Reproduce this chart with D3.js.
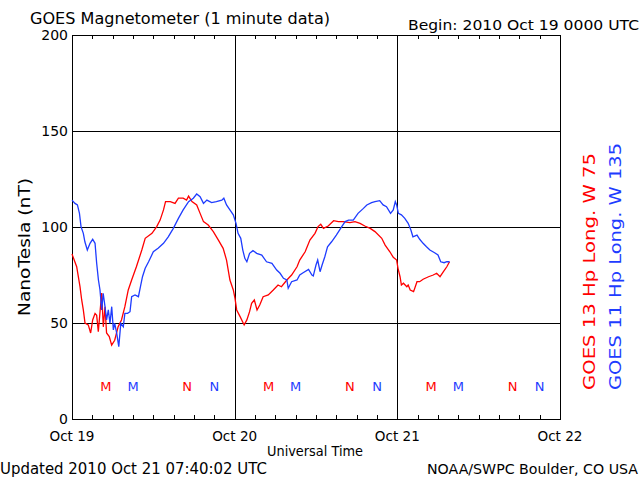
<!DOCTYPE html>
<html>
<head>
<meta charset="utf-8">
<script src="https://cdn.jsdelivr.net/npm/d3@7"></script>
<style>
  html, body { margin: 0; padding: 0; background: #fff; }
  text { font-family: "DejaVu Sans", sans-serif; }
</style>
</head>
<body>
<svg id="chart" width="640" height="480"></svg>
<script>
// ---------- DATA ----------
const dayLabels = ["Oct 19", "Oct 20", "Oct 21", "Oct 22"];
const yTicks = [0, 50, 100, 150, 200];

// GOES 13 (red): hours since 2010 Oct 19 00:00 UTC, values in nT
const g13Hours = [0, 0.69, 1.18, 1.43, 1.67, 1.92, 2.4, 2.75, 3.05, 3.4, 3.64, 3.88, 4.38, 4.62, 4.87, 5.1, 5.5, 5.85, 6.3, 6.8, 7.3, 7.8, 8.3, 8.8, 9.5, 10.3, 10.8, 11.8, 12.5, 13, 13.5, 13.8, 14.5, 15.2, 15.7, 16.4, 16.9, 17.2, 17.7, 18.4, 18.9, 19.4, 20.1, 20.85, 21.6, 22.3, 22.8, 23.3, 23.8, 24.05, 24.3, 24.8, 25.4, 25.8, 26.2, 26.5, 26.9, 27.3, 27.7, 28.2, 28.96, 29.7, 30.4, 30.9, 31.7, 32.4, 33.2, 33.6, 34.4, 35.1, 35.85, 36.3, 36.7, 37.1, 37.8, 38.6, 39.3, 40, 41, 41.75, 42.5, 43.2, 44, 44.7, 45.7, 46.2, 46.9, 47.4, 47.9, 48.1, 48.4, 48.6, 48.9, 49.4, 49.6, 49.9, 50.4, 50.9, 51.3, 51.8, 52.6, 53.3, 53.8, 54.3, 54.8, 55.3, 55.7];
const g13Values = [85.9, 79.3, 68.9, 62, 56.8, 50, 49, 44.8, 51.6, 55, 54, 45.5, 65.6, 48, 58.5, 44.8, 42.9, 38.5, 41, 48, 51.6, 58.5, 67.2, 72.4, 79.3, 88, 94.1, 96.7, 100.2, 103.6, 108.9, 113.2, 113.2, 112.3, 115, 115, 114, 116.1, 113.2, 111.5, 107.1, 102.8, 101, 97.6, 93.2, 88.9, 82.8, 72.4, 67.2, 62.8, 56.8, 53.3, 49, 51.6, 55.9, 60.3, 62, 56.8, 59.4, 63.7, 64.6, 67.2, 69.8, 68.9, 72.4, 75, 79.3, 82.8, 87.1, 93.2, 96.7, 100.2, 101.4, 99.3, 100.5, 103.3, 102.8, 102.8, 102.3, 102.8, 101.9, 100.5, 99.3, 97.6, 94.1, 90.6, 87.1, 84.2, 82.8, 78.5, 74.1, 69.8, 70.7, 68.9, 69.8, 67.2, 66.3, 71.5, 71.5, 72.8, 74.1, 75, 75.9, 74.1, 76.7, 79.3, 81.9];

// GOES 11 (blue)
const g11Hours = [0, 0.44, 0.8, 1.1, 1.33, 1.67, 1.9, 2.26, 2.66, 3.05, 3.4, 3.64, 3.9, 4.13, 4.38, 4.6, 4.87, 5.1, 5.36, 5.6, 5.86, 6.1, 6.3, 6.6, 6.9, 7.2, 7.57, 7.8, 8.2, 8.56, 8.8, 9.3, 9.8, 10.1, 10.4, 10.8, 11.3, 12, 12.7, 13.5, 14.2, 14.95, 15.7, 16.4, 17.2, 17.9, 18.4, 18.9, 19.4, 19.9, 20.6, 21.3, 22.1, 22.4, 22.8, 23.3, 23.8, 24.2, 24.5, 24.9, 25.2, 25.5, 25.8, 26.2, 26.7, 27.25, 28, 28.7, 29.5, 30.2, 30.7, 31.2, 31.7, 31.9, 32.4, 33.2, 33.6, 34.1, 34.9, 35.4, 35.6, 36, 36.25, 36.6, 36.9, 37.3, 37.7, 38.3, 39, 39.8, 40.3, 40.8, 41.5, 42.2, 43, 43.5, 44.2, 44.7, 45.4, 45.9, 46.4, 47, 47.4, 47.7, 47.9, 48.15, 48.6, 49.1, 49.6, 50, 50.3, 50.9, 51.3, 51.8, 52.3, 52.8, 53.5, 54, 54.4, 54.9, 55.3, 55.7];
const g11Values = [114, 112.3, 111.5, 107.1, 100.2, 96.7, 92.3, 88, 91.5, 93.6, 91.5, 81.1, 72.4, 67.2, 56.8, 65.5, 58.5, 51.6, 56.8, 49.8, 58.5, 46.4, 49.8, 44.6, 37.7, 49.8, 48, 55, 55, 55.9, 63.7, 64.6, 63.7, 68.9, 74.1, 78.5, 81.9, 87.1, 88.9, 91.5, 94.9, 99.3, 104.5, 108.9, 113.2, 115, 117.2, 115.8, 112.3, 114, 112.7, 113.2, 114, 115, 111.5, 108.9, 106.3, 101.9, 96.7, 94.1, 88, 83.7, 81.9, 86.3, 87.7, 86.3, 85.4, 81.9, 81.1, 77.6, 75.9, 73.3, 72.4, 68.1, 71.5, 72.4, 75, 76.2, 77.9, 75, 74.5, 80.2, 82.8, 76.7, 80.2, 84.5, 89.7, 92.3, 95.8, 100.2, 102.8, 103.6, 103.6, 107.1, 109.7, 111.5, 112.7, 113.2, 113.7, 111.5, 110.6, 107.1, 108.9, 113.2, 111.5, 107.1, 106.3, 104.5, 101.9, 98.4, 94.9, 95.8, 93.6, 91.5, 89.7, 88, 86.6, 85.4, 81.9, 81.4, 81.9, 81.9];

// Local midnight (M) / noon (N) markers, hours since start
const g13MarkerHours = [5, 17, 29, 41, 53, 65];
const g11MarkerHours = [9, 21, 33, 45, 57, 69];
const markerLetters = ["M", "N", "M", "N", "M", "N"];

// ---------- CHART ----------
const RED = "#ff0000", BLUE = "#1e3cff";
const svg = d3.select("#chart");
const pLeft = 72, pRight = 560, pTop = 35, pBottom = 419;

const x = d3.scaleLinear().domain([0, 72]).range([pLeft, pRight]);
const y = d3.scaleLinear().domain([0, 200]).range([pBottom, pTop]);

// grid lines
svg.append("g").selectAll("line").data([50, 100, 150]).join("line")
  .attr("x1", pLeft).attr("x2", pRight)
  .attr("y1", d => Math.round(y(d)) + 0.5).attr("y2", d => Math.round(y(d)) + 0.5)
  .attr("stroke", "#000").attr("stroke-width", 1);
svg.append("g").selectAll("line").data([24, 48]).join("line")
  .attr("x1", d => Math.round(x(d)) + 0.5).attr("x2", d => Math.round(x(d)) + 0.5)
  .attr("y1", pTop).attr("y2", pBottom)
  .attr("stroke", "#000").attr("stroke-width", 1);

// frame
svg.append("rect").attr("x", pLeft + 0.5).attr("y", pTop + 0.5)
  .attr("width", pRight - pLeft).attr("height", pBottom - pTop)
  .attr("fill", "none").attr("stroke", "#000").attr("stroke-width", 1);

// minor ticks every 3 hours, top and bottom, inward
const minor = d3.range(3, 72, 3).filter(h => h % 24 !== 0);
svg.append("g").selectAll("line").data(minor).join("line")
  .attr("x1", d => Math.round(x(d)) + 0.5).attr("x2", d => Math.round(x(d)) + 0.5)
  .attr("y1", pTop).attr("y2", pTop + 4).attr("stroke", "#000");
svg.append("g").selectAll("line").data(minor).join("line")
  .attr("x1", d => Math.round(x(d)) + 0.5).attr("x2", d => Math.round(x(d)) + 0.5)
  .attr("y1", pBottom - 4).attr("y2", pBottom).attr("stroke", "#000");

// y tick labels
svg.append("g").selectAll("text").data(yTicks).join("text")
  .attr("x", 68).attr("y", d => y(d)).attr("dy", "0.36em")
  .attr("text-anchor", "end").attr("font-size", 14).text(d => d);

// x tick labels
svg.append("g").selectAll("text").data(dayLabels).join("text")
  .attr("x", (d, i) => x(i * 24)).attr("y", 441)
  .attr("text-anchor", "middle").attr("font-size", 14)
  .attr("textLength", 45).attr("lengthAdjust", "spacingAndGlyphs").text(d => d);

// series lines
const line = d3.line().x(d => x(d[0])).y(d => y(d[1]));
svg.append("path").datum(d3.zip(g13Hours, g13Values))
  .attr("d", line).attr("fill", "none").attr("stroke", RED).attr("stroke-width", 1.3);
svg.append("path").datum(d3.zip(g11Hours, g11Values))
  .attr("d", line).attr("fill", "none").attr("stroke", BLUE).attr("stroke-width", 1.3);

// M / N markers
svg.append("g").selectAll("text").data(g13MarkerHours).join("text")
  .attr("x", d => x(d)).attr("y", 391).attr("text-anchor", "middle")
  .attr("font-size", 13).attr("fill", RED).text((d, i) => markerLetters[i]);
svg.append("g").selectAll("text").data(g11MarkerHours).join("text")
  .attr("x", d => x(d)).attr("y", 391).attr("text-anchor", "middle")
  .attr("font-size", 13).attr("fill", BLUE).text((d, i) => markerLetters[i]);

// titles
svg.append("text").attr("x", 30).attr("y", 24).attr("font-size", 16)
  .attr("textLength", 300).attr("lengthAdjust", "spacingAndGlyphs")
  .text("GOES Magnetometer (1 minute data)");
svg.append("text").attr("x", 408).attr("y", 30).attr("font-size", 14)
  .attr("textLength", 231).attr("lengthAdjust", "spacingAndGlyphs")
  .text("Begin:  2010 Oct 19 0000 UTC");
svg.append("text").attr("x", 315).attr("y", 456).attr("text-anchor", "middle").attr("font-size", 14)
  .attr("textLength", 96).attr("lengthAdjust", "spacingAndGlyphs")
  .text("Universal Time");
svg.append("text").attr("x", 0).attr("y", 474).attr("font-size", 15)
  .attr("textLength", 267).attr("lengthAdjust", "spacingAndGlyphs")
  .text("Updated 2010 Oct 21 07:40:02 UTC");
svg.append("text").attr("x", 427).attr("y", 474).attr("font-size", 14)
  .attr("textLength", 211).attr("lengthAdjust", "spacingAndGlyphs")
  .text("NOAA/SWPC Boulder, CO USA");

// y axis title
svg.append("text").attr("transform", "translate(30,247) rotate(-90)")
  .attr("text-anchor", "middle").attr("font-size", 16)
  .attr("textLength", 138).attr("lengthAdjust", "spacingAndGlyphs")
  .text("NanoTesla (nT)");

// right-hand legend
svg.append("text").attr("transform", "translate(595,390) rotate(-90)")
  .attr("font-size", 16).attr("fill", RED)
  .attr("textLength", 237).attr("lengthAdjust", "spacingAndGlyphs")
  .text("GOES 13 Hp  Long. W 75");
svg.append("text").attr("transform", "translate(621,390) rotate(-90)")
  .attr("font-size", 16).attr("fill", BLUE)
  .attr("textLength", 247).attr("lengthAdjust", "spacingAndGlyphs")
  .text("GOES 11 Hp  Long. W 135");
</script>
</body>
</html>
